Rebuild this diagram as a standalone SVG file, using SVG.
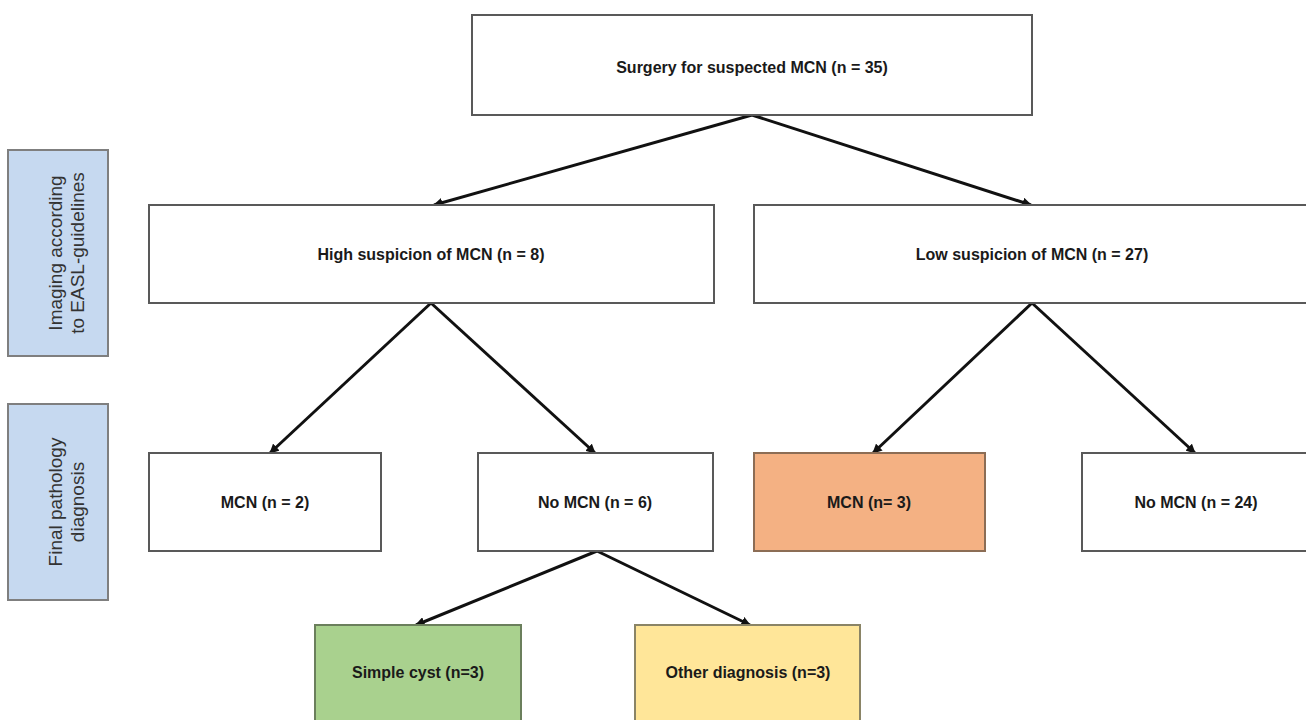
<svg xmlns="http://www.w3.org/2000/svg" width="1306" height="720" viewBox="0 0 1306 720">
<style>
.box{fill:#ffffff;stroke:#595959;stroke-width:2}
.side{fill:#c6d9f0;stroke:#7f7f7f;stroke-width:2}
.t{font-family:"Liberation Sans",Arial,sans-serif;font-size:16px;font-weight:bold;fill:#1a1a1a;text-anchor:middle;dominant-baseline:central}
.st{font-family:"Liberation Sans",Arial,sans-serif;font-size:19px;fill:#333333;text-anchor:middle}
.c{stroke:#111111;stroke-width:3;fill:none;marker-end:url(#ah)}
</style>
<defs>
<marker id="ah" viewBox="0 0 10 10" refX="9" refY="5" markerWidth="3.2" markerHeight="3.2" orient="auto" markerUnits="strokeWidth">
<path d="M0,0 L10,5 L0,10 z" fill="#111111"/>
</marker>
</defs>
<rect width="1306" height="720" fill="#ffffff"/>
<g id="side-imaging">
<rect class="side" x="8" y="150" width="100" height="206"/>
<text class="st" transform="translate(66,253) rotate(-90)"><tspan x="0" y="-4">Imaging according</tspan><tspan x="0" y="18">to EASL-guidelines</tspan></text>
</g>
<g id="side-pathology">
<rect class="side" x="8" y="404" width="100" height="196"/>
<text class="st" transform="translate(66,502) rotate(-90)"><tspan x="0" y="-4">Final pathology</tspan><tspan x="0" y="18">diagnosis</tspan></text>
</g>
<g id="connectors">
<line class="c" x1="752" y1="115" x2="434" y2="205"/>
<line class="c" x1="752" y1="115" x2="1031" y2="205"/>
<line class="c" x1="431" y1="303" x2="270" y2="453"/>
<line class="c" x1="431" y1="303" x2="595" y2="453"/>
<line class="c" x1="1032" y1="303" x2="873" y2="453"/>
<line class="c" x1="1032" y1="303" x2="1195" y2="453"/>
<line class="c" x1="597" y1="551" x2="416" y2="625"/>
<line class="c" x1="597" y1="551" x2="750" y2="625"/>
</g>
<g id="n-surgery">
<rect class="box" x="472" y="15" width="560" height="100"/>
<text class="t" x="752" y="67">Surgery for suspected MCN (n = 35)</text>
</g>
<g id="n-high">
<rect class="box" x="149" y="205" width="565" height="98"/>
<text class="t" x="431" y="254">High suspicion of MCN (n = 8)</text>
</g>
<g id="n-low">
<rect class="box" x="754" y="205" width="560" height="98"/>
<text class="t" x="1032" y="254">Low suspicion of MCN (n = 27)</text>
</g>
<g id="n-mcn2">
<rect class="box" x="149" y="453" width="232" height="98"/>
<text class="t" x="265" y="502">MCN (n = 2)</text>
</g>
<g id="n-nomcn6">
<rect class="box" x="478" y="453" width="235" height="98"/>
<text class="t" x="595" y="502">No MCN (n = 6)</text>
</g>
<g id="n-mcn3">
<rect x="754" y="453" width="231" height="98" fill="#f4b183" stroke="#8c6d55" stroke-width="2"/>
<text class="t" x="869" y="502">MCN (n= 3)</text>
</g>
<g id="n-nomcn24">
<rect class="box" x="1082" y="453" width="232" height="98"/>
<text class="t" x="1196" y="502">No MCN (n = 24)</text>
</g>
<g id="n-cyst">
<rect x="315" y="625" width="206" height="110" fill="#a9d18e" stroke="#6b7f5c" stroke-width="2"/>
<text class="t" x="418" y="672">Simple cyst (n=3)</text>
</g>
<g id="n-other">
<rect x="635" y="625" width="225" height="110" fill="#ffe699" stroke="#8a8466" stroke-width="2"/>
<text class="t" x="748" y="672">Other diagnosis (n=3)</text>
</g>
</svg>
